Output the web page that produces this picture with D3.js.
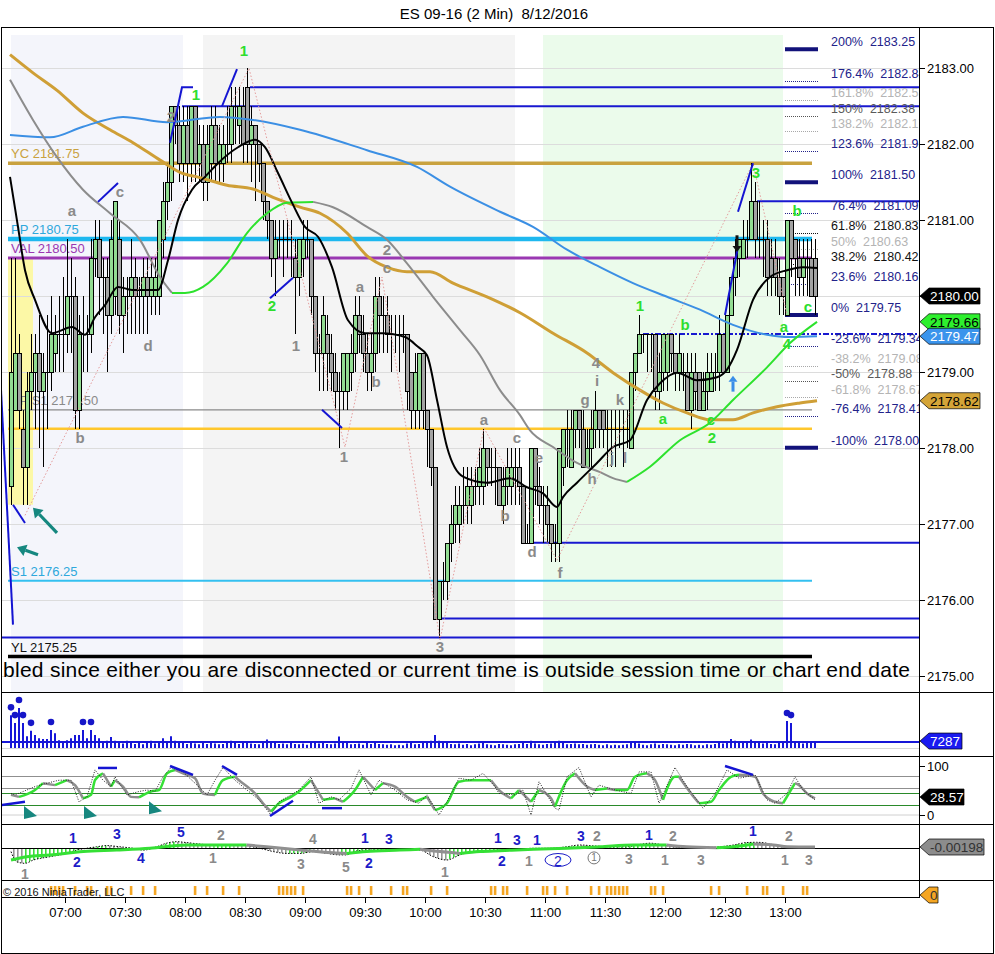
<!DOCTYPE html>
<html><head><meta charset="utf-8">
<script src="https://cdn.jsdelivr.net/npm/d3@7/dist/d3.min.js"></script>
<style>
html,body{margin:0;padding:0;background:#fff;}
svg{display:block;font-family:"Liberation Sans",Arial,Helvetica,sans-serif;}
</style></head><body>
<svg id="chart" width="995" height="954"></svg>
<script>
// ================= DATA =================
const chartTitle = "ES 09-16 (2 Min)\u00a0\u00a08/12/2016";
const firstBarMinute = 393;   // 06:33, minutes after midnight
const barStepMinutes = 2;

const barOpen = [
2177.50,2178.50,2179.25,2178.25,2177.75,2178.75,2179.00,2179.25,2178.75,2179.00,
2179.00,2179.25,2179.50,2179.50,2179.50,2180.00,2180.00,2178.50,2179.50,2179.50,
2179.50,2180.50,2180.75,2180.25,2180.25,2179.75,2180.00,2180.75,2179.75,2180.00,
2180.00,2180.25,2180.00,2180.00,2180.25,2180.00,2180.00,2180.00,2180.75,2181.25,
2181.50,2182.50,2182.25,2181.75,2182.25,2181.75,2182.50,2181.75,2182.00,2181.50,
2181.75,2182.25,2181.75,2181.75,2182.00,2182.00,2182.50,2182.25,2182.50,2182.75,
2182.00,2182.25,2182.00,2181.75,2181.25,2181.00,2180.50,2180.75,2180.75,2180.75,
2180.75,2180.50,2180.25,2180.50,2180.75,2180.75,2180.00,2179.25,2179.25,2179.50,
2179.25,2179.00,2178.75,2178.75,2178.75,2179.00,2179.25,2179.75,2179.50,2179.25,
2179.00,2179.25,2180.00,2179.75,2179.75,2179.50,2179.50,2179.50,2179.50,2179.50,
2179.00,2178.50,2178.50,2179.25,2178.50,2178.25,2177.75,2175.75,2176.25,2176.25,
2176.75,2177.00,2177.00,2177.25,2177.25,2177.25,2177.50,2177.50,2177.50,2178.00,
2177.75,2177.75,2177.75,2177.25,2177.50,2177.50,2177.75,2177.75,2177.50,2176.75,
2176.75,2178.00,2177.50,2177.25,2177.25,2177.00,2176.75,2176.75,2177.75,2178.25,
2177.75,2178.25,2178.50,2178.25,2177.75,2178.00,2178.25,2178.50,2178.50,2178.25,
2178.25,2178.25,2178.25,2178.25,2178.25,2178.00,2179.00,2179.25,2179.50,2179.50,
2179.50,2179.50,2178.75,2179.00,2179.00,2179.50,2179.25,2179.00,2179.00,2179.00,
2178.50,2179.00,2179.00,2178.50,2178.75,2178.75,2179.00,2179.00,2179.50,2179.00,
2179.75,2180.25,2180.50,2180.50,2180.75,2180.75,2181.25,2180.75,2180.75,2180.75,
2180.50,2180.50,2180.25,2180.25,2179.75,2181.00,2180.75,2180.50,2180.25,2180.50,
2180.50,2180.50];
const barHigh = [
2180.50,2180.50,2179.50,2178.50,2179.00,2179.50,2179.50,2179.75,2179.25,2179.75,
2180.00,2179.75,2180.00,2180.25,2180.75,2180.50,2180.25,2179.75,2180.00,2179.75,
2180.75,2181.00,2181.00,2180.50,2180.50,2181.00,2181.25,2181.00,2180.25,2180.25,
2180.75,2180.50,2180.25,2180.50,2180.50,2180.50,2180.50,2181.00,2181.50,2181.75,
2182.50,2182.50,2182.50,2182.50,2182.50,2182.50,2182.50,2182.25,2182.25,2182.25,
2182.50,2182.50,2182.25,2182.25,2182.50,2182.75,2182.75,2182.75,2182.75,2183.00,
2182.50,2182.25,2182.00,2181.75,2181.25,2181.00,2181.00,2181.00,2181.00,2181.00,
2181.00,2180.75,2180.75,2181.00,2181.00,2180.75,2180.00,2179.50,2180.00,2179.75,
2179.50,2179.25,2179.00,2179.25,2179.25,2179.50,2180.00,2180.00,2179.75,2179.50,
2179.50,2180.25,2180.25,2180.00,2180.00,2179.75,2179.75,2179.75,2179.75,2179.50,
2179.00,2179.25,2179.25,2179.25,2178.50,2178.25,2177.75,2176.25,2176.50,2176.75,
2177.25,2177.50,2177.50,2177.75,2177.75,2177.75,2177.75,2178.00,2178.25,2178.00,
2178.00,2178.00,2177.75,2177.75,2178.00,2178.00,2178.00,2178.00,2177.50,2177.00,
2178.00,2178.00,2177.75,2177.50,2177.50,2177.00,2177.00,2178.00,2178.25,2178.50,
2178.50,2178.50,2178.50,2178.50,2178.25,2178.50,2178.75,2178.50,2178.50,2178.50,
2178.50,2178.50,2178.50,2178.50,2178.50,2179.00,2179.25,2179.75,2179.50,2179.50,
2179.50,2179.50,2179.25,2179.50,2179.50,2179.50,2179.25,2179.50,2179.25,2179.25,
2179.25,2179.25,2179.00,2179.00,2179.25,2179.25,2179.25,2179.75,2179.50,2179.75,
2180.25,2180.75,2180.75,2181.00,2181.00,2181.75,2181.50,2181.25,2181.00,2181.00,
2180.75,2180.75,2180.50,2180.25,2181.00,2181.00,2180.75,2180.75,2180.75,2180.75,
2180.75,2180.75];
const barLow = [
2177.25,2178.50,2178.25,2177.25,2177.25,2178.50,2178.25,2178.00,2177.75,2178.25,
2178.75,2179.00,2179.00,2179.00,2179.25,2179.25,2178.25,2178.25,2179.00,2179.00,
2179.25,2180.25,2179.75,2179.50,2179.00,2179.50,2179.75,2179.50,2179.25,2179.50,
2179.50,2179.50,2179.50,2179.50,2179.50,2179.75,2179.75,2179.75,2180.50,2181.00,
2181.25,2182.00,2181.50,2181.50,2181.25,2181.50,2181.50,2181.50,2181.25,2181.25,
2181.50,2181.50,2181.50,2181.50,2181.75,2181.75,2182.00,2182.00,2181.75,2181.75,
2181.50,2181.25,2181.50,2181.00,2180.75,2180.25,2180.00,2180.50,2180.25,2180.50,
2180.25,2179.50,2180.00,2180.25,2180.50,2179.75,2179.00,2178.75,2178.75,2178.75,
2178.75,2178.50,2178.00,2178.50,2178.50,2178.75,2179.00,2179.25,2179.00,2178.75,
2178.75,2179.00,2179.25,2179.25,2179.25,2179.00,2179.25,2179.00,2179.25,2178.50,
2178.25,2178.25,2178.25,2178.25,2177.75,2177.50,2175.75,2175.50,2176.00,2176.00,
2176.50,2176.75,2176.75,2177.00,2177.00,2177.00,2177.25,2177.25,2177.25,2177.50,
2177.50,2177.25,2177.25,2177.00,2177.25,2177.25,2177.25,2177.25,2176.75,2176.75,
2176.75,2177.25,2177.00,2176.75,2176.75,2176.50,2176.50,2176.50,2177.50,2177.75,
2177.75,2178.00,2178.00,2177.75,2177.75,2177.75,2178.00,2178.00,2178.00,2177.75,
2177.75,2177.75,2178.00,2177.75,2178.00,2178.00,2178.75,2179.25,2179.25,2179.00,
2179.00,2178.50,2178.50,2178.75,2178.75,2179.00,2178.75,2178.75,2178.75,2178.50,
2178.25,2178.50,2178.50,2178.50,2178.50,2178.75,2178.75,2178.75,2179.00,2179.00,
2179.75,2180.00,2180.25,2180.50,2180.50,2180.75,2180.50,2180.50,2180.25,2180.00,
2180.00,2180.00,2179.75,2179.75,2179.75,2180.25,2180.00,2180.00,2180.00,2180.00,
2180.00,2179.75];
const barClose = [
2179.00,2179.25,2178.50,2177.75,2178.75,2179.00,2179.25,2178.75,2179.00,2179.00,
2179.50,2179.50,2179.50,2179.50,2180.00,2180.00,2178.50,2179.50,2179.50,2179.50,
2180.50,2180.75,2180.25,2180.25,2179.75,2180.75,2181.25,2179.75,2180.00,2180.00,
2180.25,2180.00,2180.00,2180.25,2180.00,2180.25,2180.25,2181.00,2181.25,2181.50,
2182.50,2182.25,2181.75,2182.25,2181.75,2182.50,2181.75,2182.00,2181.50,2182.00,
2182.25,2181.75,2182.00,2182.00,2182.00,2182.50,2182.50,2182.50,2182.00,2182.00,
2182.25,2182.00,2181.75,2181.25,2181.00,2180.50,2180.75,2180.75,2180.75,2180.75,
2180.75,2180.25,2180.75,2180.75,2180.75,2180.00,2179.25,2179.25,2179.75,2179.25,
2179.00,2178.75,2178.75,2179.25,2179.25,2179.25,2179.75,2179.50,2179.25,2179.00,
2179.25,2180.00,2179.75,2179.75,2179.50,2179.50,2179.50,2179.50,2179.50,2178.75,
2178.50,2179.00,2179.25,2178.50,2178.25,2177.75,2175.75,2176.25,2176.25,2176.75,
2177.00,2177.25,2177.25,2177.25,2177.50,2177.50,2177.50,2177.75,2178.00,2177.75,
2177.75,2177.75,2177.25,2177.50,2177.75,2177.75,2177.75,2177.50,2176.75,2176.75,
2178.00,2177.50,2177.25,2177.25,2177.00,2176.75,2176.75,2178.00,2178.25,2178.25,
2178.25,2178.50,2178.25,2177.75,2178.00,2178.25,2178.50,2178.25,2178.25,2178.25,
2178.25,2178.25,2178.25,2178.25,2178.25,2179.00,2179.25,2179.50,2179.50,2179.50,
2179.50,2178.75,2179.00,2179.50,2179.50,2179.25,2179.00,2179.25,2179.00,2178.50,
2179.00,2178.75,2178.50,2178.75,2179.00,2179.00,2179.00,2179.50,2179.00,2179.75,
2180.25,2180.50,2180.75,2180.75,2180.75,2181.25,2180.75,2180.75,2180.75,2180.25,
2180.25,2180.25,2180.00,2180.00,2181.00,2180.50,2180.50,2180.25,2180.50,2180.50,
2180.00,2180.00];
const barVolume = [
40000,30500,49000,30500,14500,21000,16000,12000,11000,11000,
22000,18000,9500,6000,9500,12000,16000,16000,22000,12000,
22000,16000,12000,8000,9000,13500,9000,6500,5500,9000,
7000,5000,6500,4500,6000,9000,5500,8000,12000,7500,
14500,9000,6000,7500,5000,6500,5500,4500,6000,5000,
7000,5500,4500,5000,6000,9000,6000,5000,7000,8500,
5500,5000,4500,6500,10500,8000,6500,5000,5500,4500,
6000,5000,4500,5500,4000,6500,8000,5500,6000,5000,
4500,5500,14000,7000,6000,4500,5000,5500,4000,6000,
5000,6500,5000,4500,4000,4500,3500,4000,3500,5500,
6500,4500,5000,6000,7500,9000,16000,9000,7000,6000,
5000,4500,5500,4000,5000,3500,4500,5500,6500,4500,
4000,3500,5000,4500,4000,3500,4500,5000,6500,5000,
9000,5500,4500,4000,5000,5500,6000,9000,6000,4500,
5000,5500,4500,5000,4000,4500,5000,4000,3500,4500,
3500,4000,3500,4000,4500,7500,6000,5500,4000,3500,
4500,5500,4000,5000,4500,4000,3500,4500,4000,5000,
4500,3500,4000,3500,4500,4000,5000,6000,5500,7000,
11000,9000,7500,7000,6500,10500,7500,6000,5500,6000,
5000,4500,7000,6000,33000,30500,8000,6500,5500,6000,
7000,7287];
const volumeSpikeLevel = 20000;
const volumeLastValue = 7287;

const priceTicks = [2175,2176,2177,2178,2179,2180,2181,2182,2183];
const timeTicks = [420,450,480,510,540,570,600,630,660,690,720,750,780];
const timeTickLabels = ["07:00","07:30","08:00","08:30","09:00","09:30","10:00","10:30","11:00","11:30","12:00","12:30","13:00"];

// session shading (minutes)
const shadeStart = [393, 489, 659];
const shadeEnd   = [479, 645, 779];
const yellowBoxTimes = [391.5, 404];
const yellowBoxPrices = [2177.25, 2180.50];

// moving averages [minute, price]
const goldMA = [[392.5,2183.18],[404,2182.94],[416,2182.71],[429,2182.41],[442.5,2182.19],[454,2182.02],[467.5,2181.79],[477.5,2181.63],[487.5,2181.56],[501,2181.46],[514,2181.41],[524,2181.30],[537.5,2181.17],[547.5,2181.09],[561,2180.83],[571,2180.53],[581,2180.38],[591,2180.32],[602.5,2180.32],[614,2180.17],[631,2179.99],[647.5,2179.78],[664,2179.51],[681,2179.25],[694,2178.99],[707.5,2178.76],[719,2178.59],[731,2178.46],[742.5,2178.37],[754,2178.37],[764,2178.46],[776,2178.54],[787.5,2178.59],[796,2178.62]];
const blueMA = [[392.5,2182.12],[412.5,2182.09],[429,2182.23],[449,2182.36],[471,2182.29],[497.5,2182.36],[514,2182.32],[537.5,2182.19],[571,2181.92],[596,2181.70],[612.5,2181.44],[637.5,2181.11],[654,2180.91],[671,2180.61],[687.5,2180.38],[704,2180.17],[721,2179.99],[737.5,2179.82],[754,2179.62],[771,2179.49],[782.5,2179.46],[796,2179.47]];
const trendMA = [[392.5,2182.85],[404,2182.32],[416,2181.83],[429,2181.40],[442.5,2181.09],[457.5,2180.74],[467.5,2180.25],[473.5,2180.04],[480,2180.04],[489,2180.12],[501,2180.43],[511,2180.83],[521,2181.09],[531,2181.23],[544,2181.24],[554,2181.17],[571,2180.91],[581,2180.74],[591,2180.43],[604,2179.99],[617.5,2179.55],[627.5,2179.22],[637.5,2178.76],[647.5,2178.43],[652.5,2178.23],[664,2178.01],[676,2177.80],[687.5,2177.68],[694,2177.60],[701,2177.55],[712.5,2177.75],[727.5,2178.10],[742.5,2178.33],[754,2178.63],[771,2179.06],[782.5,2179.38],[796,2179.66]];
const fastMA = [[392.5,2181.57],[396.5,2180.91],[400,2180.34],[405,2179.95],[413.5,2179.51],[423.5,2179.59],[430,2179.49],[435,2179.72],[440,2179.88],[446.5,2180.12],[453.5,2180.08],[466.5,2180.08],[471.5,2180.47],[476.5,2181.00],[483.5,2181.40],[490,2181.57],[496.5,2181.75],[506.5,2181.96],[515,2182.06],[520,2181.96],[526.5,2181.62],[533.5,2181.23],[540,2180.91],[546.5,2180.78],[553.5,2180.38],[561.5,2179.68],[570,2179.51],[578.5,2179.51],[590,2179.46],[596.5,2179.33],[601,2179.22],[606,2178.63],[611,2178.01],[619,2177.62],[631,2177.54],[642.5,2177.60],[651,2177.48],[659,2177.40],[666,2177.22],[669,2177.35],[676,2177.54],[686,2177.80],[694,2178.01],[702.5,2178.10],[711,2178.63],[717.5,2178.85],[726,2178.99],[736,2178.89],[746,2178.93],[751,2179.03],[756,2179.29],[764,2179.95],[772.5,2180.25],[781,2180.34],[789,2180.38],[796,2180.37]];

// pivot / session levels
const levelNames  = ["YC","PP","VAL","PP S1","S1","YL"];
const levelPrices = [2181.75, 2180.75, 2180.50, 2178.50, 2176.25, 2175.25];
const markerLevelPrices = [2178.25];
const levelSpan = [391.5, 793.5];

// horizontal rays (start minute, price)
const rayStarts = [512.5, 478.5, 766, 654, 608.5, 388];
const rayPrices = [2182.75, 2182.50, 2181.25, 2176.75, 2175.75, 2175.50];
const dashRayStart = 709, dashRayPrice = 2179.50;

// fibonacci
const fibZero = 2179.75, fibHundred = 2181.50;
const fibPercents = [200,176.4,161.8,150,138.2,123.6,100,76.4,61.8,50,38.2,23.6,0,-23.6,-38.2,-50,-61.8,-76.4,-100];
const fibSpan = [780, 796.5];
const fibLabelMinute = 803;

// zigzag
const zigTimes  = [400,512,560,578.5,607.5,629.5,666,764,781];
const zigPrices = [2177.11,2183.00,2178.01,2180.25,2175.47,2178.26,2176.52,2181.75,2179.75];

// drawn trend segments
const trendSegments = [
 [[388,2178.76],[394,2175.67]],
 [[394,2177.25],[400,2177.01]],
 [[436.5,2181.24],[446.5,2181.49]],
 [[472.5,2182.02],[478.5,2182.75],[484,2182.75]],
 [[498.5,2182.50],[506,2182.99]],
 [[522.5,2179.97],[534,2180.24]],
 [[548.5,2178.50],[558.5,2178.26]],
 [[750,2179.75],[756.5,2180.65]],
 [[756.5,2181.11],[764,2181.75]]];
const tealArrows = [[[416,2176.88],[404,2177.21]],[[406.5,2176.59],[396,2176.69]]];
const downArrow = [[756,2180.80],[756,2180.58]];
const upArrow = [[754,2178.74],[754,2178.95]];

// wave labels [minute, price, text]
const grayMarks = [[423.5,2181.12,"a"],[447.5,2181.38,"c"],[427.5,2178.14,"b"],[461.5,2179.35,"d"],[473,2182.36,"2"],[535.5,2179.35,"1"],[559.5,2177.88,"1"],[567.5,2180.12,"a"],[575.5,2178.88,"b"],[581,2180.61,"2"],[581,2180.37,"c"],[607.5,2175.38,"3"],[629.5,2178.37,"a"],[640,2177.11,"b"],[646,2178.14,"c"],[653.5,2176.63,"d"],[657,2177.87,"e"],[667.5,2176.36,"f"],[680,2178.63,"g"],[683.5,2177.60,"h"],[686,2178.89,"i"],[685.5,2179.13,"4"],[693.5,2177.87,"j"],[697.5,2178.63,"k"],[700,2177.87,"l"]];
const greenMarks = [[485.5,2182.65,"1"],[509.5,2183.24,"1"],[523.5,2179.88,"2"],[707.5,2179.88,"1"],[730,2179.63,"b"],[719,2178.39,"a"],[743,2178.37,"c"],[743.5,2178.13,"2"],[765.5,2181.63,"3"],[786,2181.13,"b"],[779.5,2179.60,"a"],[791.5,2179.86,"c"],[781,2179.37,"4"]];

const messageText = "bled since either you are disconnected or current time is outside session time or chart end date";

// stochastics [barIndex, value]
const stochSlow = [[0,41],[2,37],[6,51],[8,65],[11,61],[14,71],[16,61],[18,34],[20,41],[21,71],[23,85],[25,58],[26,71],[28,58],[30,37],[32,36],[35,48],[37,51],[39,85],[41,92],[43,85],[46,75],[48,44],[51,41],[53,71],[56,78],[57,71],[61,44],[63,24],[65,7],[67,24],[70,37],[72,48],[75,71],[76,58],[78,31],[81,34],[83,27],[86,51],[88,78],[91,51],[93,65],[96,58],[99,37],[101,27],[104,37],[106,10],[109,24],[112,68],[115,71],[117,71],[120,71],[122,51],[125,34],[127,51],[130,27],[132,51],[135,34],[136,17],[139,71],[141,85],[144,58],[146,51],[149,54],[151,51],[154,51],[156,78],[159,85],[161,71],[163,31],[166,78],[167,78],[170,44],[172,24],[175,27],[177,51],[180,78],[182,82],[186,78],[188,44],[191,27],[193,24],[196,65],[197,61],[199,44],[201,34]];
const stochFast = [[0,44],[1,41],[6,58],[9,65],[12,71],[15,71],[17,27],[19,37],[21,92],[23,71],[25,58],[26,78],[29,41],[32,48],[34,51],[36,48],[38,78],[40,97],[43,88],[46,65],[49,41],[51,71],[53,97],[56,71],[59,51],[62,31],[65,0],[67,27],[70,41],[72,51],[75,78],[77,24],[80,37],[82,31],[85,54],[87,92],[90,41],[92,71],[96,51],[99,31],[102,24],[104,41],[107,0],[109,27],[112,75],[115,71],[118,85],[121,58],[122,44],[126,41],[128,51],[130,0],[132,68],[136,14],[137,10],[139,78],[142,97],[145,37],[147,61],[151,51],[155,44],[157,88],[160,88],[162,24],[166,97],[169,58],[173,14],[176,44],[179,92],[182,75],[186,82],[189,31],[191,24],[194,44],[196,78],[198,51],[201,31]];
const stochLast = 28.57;
const stochGrayLevels = [80, 55];
const stochGreenLevels = [45, 20];
const stochTriangles = [[4.75,4],[19.75,4],[36,14]];
const stochDivergences = [[[-2.75,20],[3.5,27]],[[21.75,96],[26.5,96]],[[39.75,100],[45.5,82]],[[52.75,100],[56.5,82]],[[64.75,-2],[70.5,29]],[[77.75,14],[82.75,14]],[[178.5,100],[185.5,82]]];

// MACD [barIndex, value]
const macdLine = [[0,-0.12],[1.4,-0.46],[3.5,-0.51],[5.6,-0.40],[9.75,-0.29],[13.9,-0.18],[16.4,-0.07],[18.9,-0.01],[21.4,0.04],[23.9,0.08],[27.25,0.04],[30.6,-0.01],[33.1,-0.07],[36.4,0.04],[38.9,0.16],[41.4,0.21],[43.9,0.18],[47.25,0.13],[50.6,0.10],[55.6,0.10],[58.9,0.08],[62.25,-0.01],[65.6,-0.12],[68.9,-0.18],[72.25,-0.18],[75.6,-0.12],[78.9,-0.18],[82.25,-0.23],[83.9,-0.23],[85.6,-0.12],[88.9,-0.07],[93.1,-0.07],[97.25,-0.04],[102.25,-0.07],[105.6,-0.29],[108.9,-0.40],[112.25,-0.23],[115.6,-0.12],[118.9,-0.09],[122.25,-0.07],[126.4,-0.04],[130.6,-0.01],[134.75,-0.01],[138.9,0.04],[142.25,0.10],[145.6,0.07],[149.75,0.04],[153.9,0.04],[157.25,0.12],[159.75,0.16],[162.25,0.12],[165.6,0.04],[168.9,0.01],[172.25,0.01],[177.25,0.04],[180.6,0.10],[183.9,0.18],[186.4,0.19],[188.9,0.16],[191.4,0.08],[193.9,0.04],[197.25,0.04],[201,-0.002]];
const macdSignal = [[0,-0.40],[3.9,-0.29],[9.75,-0.23],[18.1,-0.12],[26.4,-0.07],[34.75,-0.01],[43.9,0.10],[51.4,0.10],[58.9,0.10],[63.9,0.04],[72.25,-0.07],[80.6,-0.16],[83.9,-0.18],[88.9,-0.12],[97.25,-0.07],[102.25,-0.04],[107.25,-0.12],[112.25,-0.18],[117.25,-0.12],[122.25,-0.09],[130.6,-0.04],[138.9,-0.01],[147.25,0.04],[155.6,0.10],[163.9,0.10],[168.9,0.04],[176.4,0.01],[180.6,0.04],[185.6,0.13],[190.6,0.10],[194.1,0.04],[201,0.03]];
const macdLastText = "-0.00198";
const macdBlueMarks = [[15.5,0.33,"1"],[26.5,0.47,"3"],[16.5,-0.47,"2"],[32.5,-0.33,"4"],[42.5,0.55,"5"],[88.5,0.33,"1"],[94.5,0.30,"3"],[89.5,-0.5,"2"],[121.75,0.33,"1"],[126.5,0.27,"3"],[131.5,0.27,"1"],[122.75,-0.43,"2"],[142.5,0.4,"3"],[159.5,0.43,"1"],[185.5,0.58,"1"]];
const macdGrayMarks = [[52.5,0.43,"2"],[50.5,-0.33,"1"],[75.5,0.3,"4"],[72.5,-0.53,"3"],[83.75,-0.63,"5"],[108.5,-0.8,"1"],[3.5,-0.87,"1"],[129.5,-0.43,"1"],[146.5,0.4,"2"],[154.5,-0.37,"3"],[165.5,0.4,"2"],[163.5,-0.4,"1"],[172.5,-0.4,"3"],[194.5,0.4,"2"],[193.5,-0.4,"1"],[199.5,-0.4,"3"]];
const macdCircledBlue = [136.75,-0.4,"2"];
const macdCircledGray = [145.75,-0.33,"1"];

// signal markers bottom panel (bar indices)
const orangeBars = [10,11,12,13,16,19,20,24,25,30,33,36,46,49,53,57,67,68,69,70,71,73,84,85,87,90,95,98,99,105,109,120,121,123,124,129,133,134,136,139,145,147,149,150,151,152,153,154,160,161,163,175,177,184,188,189,193,198,199];
const signalLastText = "0";

// ================= DRAWING =================
const svg = d3.select("#chart");
const defs = svg.append("defs");
const L = 2, R = 919;
const P = {top:27, bot:692}, V = {top:692, bot:756}, S = {top:756, bot:824}, M = {top:824, bot:880}, G = {top:880, bot:897};

function clip(id, pn){ defs.append("clipPath").attr("id",id).append("rect").attr("x",L).attr("y",pn.top+1).attr("width",R-L).attr("height",pn.bot-pn.top-1); }
clip("cP",P); clip("cV",V); clip("cS",S); clip("cM",M); clip("cG",G);

const x = d3.scaleLinear().domain([420,780]).range([65,785]);
const barT = i => firstBarMinute + barStepMinutes*i;
const bx = i => x(barT(i));
const y = d3.scaleLinear().domain([2175,2183]).range([675.5,68.3]);
const yV = d3.scaleLinear().domain([0,60000]).range([748,699]);
const yS = d3.scaleLinear().domain([0,100]).range([815,766]);
const yM = d3.scaleLinear().domain([-1,1]).range([878,818]);

const FONT = "'Liberation Sans',Arial,sans-serif";

// ---------- price panel ----------
const gP = svg.append("g").attr("clip-path","url(#cP)");
const shadeColors = ["#f4f5fb","#f4f4f4","#ebfbeb"];
shadeStart.forEach((s,k)=>{
  gP.append("rect").attr("x",x(s)).attr("y",35).attr("width",x(shadeEnd[k])-x(s)).attr("height",P.bot-35).attr("fill",shadeColors[k]);
});
gP.append("rect").attr("x",x(yellowBoxTimes[0])).attr("y",y(yellowBoxPrices[1]))
  .attr("width",x(yellowBoxTimes[1])-x(yellowBoxTimes[0])).attr("height",y(yellowBoxPrices[0])-y(yellowBoxPrices[1])).attr("fill","#fcf8a6");

priceTicks.forEach(p=>{
  gP.append("line").attr("x1",L).attr("x2",R).attr("y1",Math.round(y(p))+0.5).attr("y2",Math.round(y(p))+0.5).attr("stroke","#dcdcdc");
});

const levelStyle = {
  "YC":{c:"#c9a23f",w:3.5,t:"#c9a23f"},
  "PP":{c:"#1eb8ef",w:4.5,t:"#2ea8dc"},
  "VAL":{c:"#9a38b2",w:3,t:"#9a38b2"},
  "PP S1":{c:"#8a8a8a",w:1.2,t:"#8a8a8a"},
  "S1":{c:"#34c0f0",w:2,t:"#2ea8dc"},
  "YL":{c:"#000000",w:3.5,t:"#111"}
};
markerLevelPrices.forEach(p=>{
  gP.append("line").attr("x1",x(levelSpan[0])).attr("x2",x(levelSpan[1])).attr("y1",y(p)).attr("y2",y(p)).attr("stroke","#ffc72c").attr("stroke-width",2.5);
});
levelNames.forEach((n,k)=>{
  const st = levelStyle[n], yy = y(levelPrices[k]);
  gP.append("line").attr("x1",x(levelSpan[0])).attr("x2",x(levelSpan[1])).attr("y1",yy).attr("y2",yy).attr("stroke",st.c).attr("stroke-width",st.w);
  gP.append("text").attr("x",11).attr("y",yy-5).attr("font-size",13).attr("fill",st.t).attr("font-family",FONT)
    .text(n+" "+levelPrices[k].toFixed(2));
});

rayStarts.forEach((s,k)=>{
  const yy = y(rayPrices[k]);
  gP.append("line").attr("x1",x(s)).attr("x2",R).attr("y1",yy).attr("y2",yy).attr("stroke","#1818d0").attr("stroke-width",2);
});
gP.append("line").attr("x1",x(dashRayStart)).attr("x2",R).attr("y1",y(dashRayPrice)).attr("y2",y(dashRayPrice))
  .attr("stroke","#1818d0").attr("stroke-width",2).attr("stroke-dasharray","6,2,2,2");

// fib
const fibMajor = [200,100,0,-100], fibLight=[161.8,138.2,50,-38.2,-61.8], fibDark=[150,-50], fibBlack=[61.8,38.2];
const fibPrice = pct => fibZero + pct/100*(fibHundred-fibZero);
fibPercents.forEach(pct=>{
  const yy = y(fibPrice(pct));
  let lc="#22228a", tc="#22228a", major=false;
  if (fibMajor.includes(pct)) { major=true; }
  else if (fibLight.includes(pct)) { lc="#a8a8a8"; tc="#b4b4b4"; }
  else if (fibDark.includes(pct)) { lc="#555"; tc="#5a5a5a"; }
  else if (fibBlack.includes(pct)) { lc="#111"; tc="#111"; }
  if (major) gP.append("line").attr("x1",x(fibSpan[0])).attr("x2",x(fibSpan[1])).attr("y1",yy).attr("y2",yy).attr("stroke","#12127a").attr("stroke-width",4);
  else gP.append("line").attr("x1",x(fibSpan[0])).attr("x2",x(fibSpan[1])).attr("y1",Math.round(yy)+0.5).attr("y2",Math.round(yy)+0.5).attr("stroke",lc).attr("stroke-width",1).attr("stroke-dasharray","1,1");
  gP.append("text").attr("x",x(fibLabelMinute)).attr("y",yy-3).attr("font-size",12.5).attr("fill",tc).attr("font-family",FONT)
    .text(String(pct)+"%\u00a0\u00a0"+fibPrice(pct).toFixed(2));
});

// candles
const gC = gP.append("g").attr("shape-rendering","crispEdges");
barClose.forEach((c,i)=>{
  const cx = Math.round(bx(i))+0.5;
  gC.append("line").attr("x1",cx).attr("x2",cx).attr("y1",y(barHigh[i])).attr("y2",y(barLow[i])).attr("stroke","#000");
});
barClose.forEach((c,i)=>{
  const cx = Math.round(bx(i))+0.5, o = barOpen[i];
  if (o===c) gC.append("line").attr("x1",cx-2.5).attr("x2",cx+2.5).attr("y1",Math.round(y(c))+0.5).attr("y2",Math.round(y(c))+0.5).attr("stroke","#000");
  else gC.append("rect").attr("x",cx-2).attr("width",4).attr("y",Math.round(y(Math.max(o,c)))+0.5)
        .attr("height",Math.round(Math.abs(y(o)-y(c)))).attr("fill",c>o?"#92dc92":"#a3a3a3").attr("stroke","#000");
});

// MAs
const lineT = d3.line().x(d=>x(d[0])).y(d=>y(d[1])).curve(d3.curveMonotoneX);
function runs(pts){
  const out=[];
  for(let j=0;j<pts.length-1;j++){
    const up = pts[j+1][1] >= pts[j][1];
    if(!out.length || out[out.length-1].up!==up) out.push({up:up, pts:[pts[j]]});
    out[out.length-1].pts.push(pts[j+1]);
  }
  return out;
}
gP.append("path").attr("d",lineT(goldMA)).attr("fill","none").attr("stroke","#cf9f36").attr("stroke-width",3);
gP.append("path").attr("d",lineT(blueMA)).attr("fill","none").attr("stroke","#3b8fe4").attr("stroke-width",2);
runs(trendMA).forEach(r=>{
  gP.append("path").attr("d",lineT(r.pts)).attr("fill","none").attr("stroke",r.up?"#2de22d":"#8c8c8c").attr("stroke-width",2);
});
gP.append("path").attr("d",lineT(fastMA)).attr("fill","none").attr("stroke","#000").attr("stroke-width",2);

// zigzag
gP.append("path").attr("d",d3.line()(zigTimes.map((t,k)=>[x(t),y(zigPrices[k])])))
  .attr("fill","none").attr("stroke","#e49c9c").attr("stroke-width",1).attr("stroke-dasharray","1.5,2");

// trend segments
trendSegments.forEach(seg=>{
  gP.append("path").attr("d",d3.line()(seg.map(d=>[x(d[0]),y(d[1])]))).attr("fill","none").attr("stroke","#1414d2").attr("stroke-width",2);
});

function arrow(g, a, b, color, w, hl, hw){
  const x1=x(a[0]), y1=y(a[1]), x2=x(b[0]), y2=y(b[1]);
  const dx=x2-x1, dy=y2-y1, len=Math.hypot(dx,dy), ux=dx/len, uy=dy/len;
  const bxp=x2-ux*hl, byp=y2-uy*hl;
  g.append("line").attr("x1",x1).attr("y1",y1).attr("x2",bxp).attr("y2",byp).attr("stroke",color).attr("stroke-width",w);
  g.append("path").attr("d",`M${x2},${y2} L${bxp-uy*hw},${byp+ux*hw} L${bxp+uy*hw},${byp-ux*hw} Z`).attr("fill",color);
}
tealArrows.forEach(a=>{ arrow(gP,a[0],a[1],"#15877f",3.2,9,6); });
arrow(gP,downArrow[0],downArrow[1],"#111",3,6,4.5);
arrow(gP,upArrow[0],upArrow[1],"#3a8ee8",3,6,4.5);

// wave labels
function marks(arr, color){
  arr.forEach(d=>{
    gP.append("text").attr("x",x(d[0])).attr("y",y(d[1])).attr("text-anchor","middle").attr("dominant-baseline","central")
      .attr("font-size",15).attr("font-weight","bold").attr("fill",color).attr("font-family",FONT).text(d[2]);
  });
}
marks(grayMarks,"#8a8a8a");
marks(greenMarks,"#2ede2e");

// message
gP.append("text").attr("x",3).attr("y",677).attr("font-size",21).attr("fill","#000").attr("font-family",FONT)
  .attr("textLength",907).attr("lengthAdjust","spacing").text(messageText);

// ---------- volume panel ----------
const gV = svg.append("g").attr("clip-path","url(#cV)");
gV.append("line").attr("x1",L).attr("x2",R).attr("y1",yV(0)+0.5).attr("y2",yV(0)+0.5).attr("stroke","#d8d8d8");
barVolume.forEach((v,i)=>{
  gV.append("line").attr("x1",bx(i)).attr("x2",bx(i)).attr("y1",yV(0)).attr("y2",yV(v)).attr("stroke","#1616d8").attr("stroke-width",2);
});
gV.append("line").attr("x1",L).attr("x2",R).attr("y1",yV(volumeLastValue)).attr("y2",yV(volumeLastValue)).attr("stroke","#1616d8").attr("stroke-width",2);
barVolume.forEach((v,i)=>{
  if (v>=volumeSpikeLevel) gV.append("circle").attr("cx",bx(i)).attr("cy",yV(v)-8).attr("r",3.3).attr("fill","#1616c8");
});

// ---------- stochastic panel ----------
const gS = svg.append("g").attr("clip-path","url(#cS)");
gS.append("line").attr("x1",L).attr("x2",R).attr("y1",yS(0)).attr("y2",yS(0)).attr("stroke","#d0d0d0");
stochGrayLevels.forEach(v=>{ gS.append("line").attr("x1",L).attr("x2",R).attr("y1",Math.round(yS(v))+0.5).attr("y2",Math.round(yS(v))+0.5).attr("stroke","#8f8f8f"); });
stochGreenLevels.forEach(v=>{ gS.append("line").attr("x1",L).attr("x2",R).attr("y1",Math.round(yS(v))+0.5).attr("y2",Math.round(yS(v))+0.5).attr("stroke","#2a8a2a"); });
const lineS = d3.line().x(d=>bx(d[0])).y(d=>yS(d[1])).curve(d3.curveMonotoneX);
runs(stochSlow).forEach(r=>{
  gS.append("path").attr("d",lineS(r.pts)).attr("fill","none").attr("stroke",r.up?"#35e035":"#8e8e8e").attr("stroke-width",2.5);
});
gS.append("path").attr("d",d3.line().x(d=>bx(d[0])).y(d=>yS(d[1]))(stochFast)).attr("fill","none").attr("stroke","#222").attr("stroke-width",1).attr("stroke-dasharray","1,1.5");
stochDivergences.forEach(seg=>{
  gS.append("path").attr("d",d3.line()(seg.map(d=>[bx(d[0]),yS(d[1])]))).attr("stroke","#1414d2").attr("stroke-width",2.5).attr("fill","none");
});
stochTriangles.forEach(d=>{
  const cx=bx(d[0]), cy=yS(d[1]);
  gS.append("path").attr("d",`M${cx-6},${cy-7} L${cx+7},${cy+3} L${cx-6},${cy+6} Z`).attr("fill","#17877f");
});

// ---------- MACD panel ----------
const gM = svg.append("g").attr("clip-path","url(#cM)");
function hatch(id,color){
  const p=defs.append("pattern").attr("id",id).attr("patternUnits","userSpaceOnUse").attr("width",4).attr("height",8);
  p.append("rect").attr("x",1).attr("y",0).attr("width",1.6).attr("height",8).attr("fill",color);
}
hatch("hG","#38dc38"); hatch("hY","#969696");
const areaM = d3.area().x(d=>bx(d[0])).y0(yM(0)).y1(d=>yM(d[1])).curve(d3.curveMonotoneX);
runs(macdLine).forEach(r=>{
  gM.append("path").attr("d",areaM(r.pts)).attr("fill",r.up?"url(#hG)":"url(#hY)");
});
gM.append("line").attr("x1",L).attr("x2",R).attr("y1",Math.round(yM(0))+0.5).attr("y2",Math.round(yM(0))+0.5).attr("stroke","#000");
const lineM = d3.line().x(d=>bx(d[0])).y(d=>yM(d[1])).curve(d3.curveMonotoneX);
gM.append("path").attr("d",lineM(macdLine)).attr("fill","none").attr("stroke","#000").attr("stroke-width",1).attr("stroke-dasharray","1.5,1.5");
runs(macdSignal).forEach(r=>{
  gM.append("path").attr("d",lineM(r.pts)).attr("fill","none").attr("stroke",r.up?"#35e035":"#909090").attr("stroke-width",3);
});
function mmarks(arr,color){
  arr.forEach(d=>{
    gM.append("text").attr("x",bx(d[0])).attr("y",yM(d[1])).attr("text-anchor","middle").attr("dominant-baseline","central")
      .attr("font-size",14).attr("font-weight","bold").attr("fill",color).attr("font-family",FONT).text(d[2]);
  });
}
mmarks(macdBlueMarks,"#1c1cc8");
mmarks(macdGrayMarks,"#8a8a8a");
gM.append("ellipse").attr("cx",bx(macdCircledBlue[0])).attr("cy",yM(macdCircledBlue[1])).attr("rx",13).attr("ry",6.5).attr("fill","none").attr("stroke","#1c1cc8");
gM.append("text").attr("x",bx(macdCircledBlue[0])).attr("y",yM(macdCircledBlue[1])+1).attr("text-anchor","middle").attr("dominant-baseline","central").attr("font-size",14).attr("fill","#1c1cc8").attr("font-family",FONT).text(macdCircledBlue[2]);
gM.append("circle").attr("cx",bx(macdCircledGray[0])).attr("cy",yM(macdCircledGray[1])).attr("r",6).attr("fill","none").attr("stroke","#777");
gM.append("text").attr("x",bx(macdCircledGray[0])).attr("y",yM(macdCircledGray[1])).attr("text-anchor","middle").attr("dominant-baseline","central").attr("font-size",10).attr("fill","#777").attr("font-family",FONT).text(macdCircledGray[2]);

// ---------- signal panel ----------
const gG = svg.append("g").attr("clip-path","url(#cG)");
orangeBars.forEach(i=>{
  gG.append("rect").attr("x",bx(i)-1.2).attr("y",886).attr("width",2.6).attr("height",9).attr("fill","#f5a623");
});
svg.append("text").attr("x",3).attr("y",896).attr("font-size",11).attr("fill","#111").attr("font-family",FONT).text("\u00a9 2016 NinjaTrader, LLC");

// ---------- frames & axes ----------
const frame = svg.append("g").attr("shape-rendering","crispEdges");
frame.append("rect").attr("x",1.5).attr("y",27.5).attr("width",992).attr("height",925.5).attr("fill","none").attr("stroke","#000");
[P.bot,V.bot,S.bot,M.bot].forEach(yy=>{ frame.append("line").attr("x1",1).attr("x2",994).attr("y1",yy+0.5).attr("y2",yy+0.5).attr("stroke","#000"); });
frame.append("line").attr("x1",1).attr("x2",R).attr("y1",G.bot+0.5).attr("y2",G.bot+0.5).attr("stroke","#000");
frame.append("line").attr("x1",R+0.5).attr("x2",R+0.5).attr("y1",27).attr("y2",G.bot+1).attr("stroke","#000");

// price-tag positions (the tags hide axis labels they cover)
const lastClose = barClose[barClose.length-1];
const tagPrices = [lastClose, trendMA[trendMA.length-1][1], blueMA[blueMA.length-1][1], goldMA[goldMA.length-1][1]];
priceTicks.forEach(p=>{
  const yy=Math.round(y(p))+0.5;
  frame.append("line").attr("x1",R).attr("x2",R+6).attr("y1",yy).attr("y2",yy).attr("stroke","#000");
  const hidden = tagPrices.some(tp=>Math.abs(y(tp)-y(p))<10);
  if (!hidden) svg.append("text").attr("x",R+8).attr("y",yy+4.5).attr("font-size",13).attr("fill","#000").attr("font-family",FONT).text(p.toFixed(2));
});
[100,0].forEach(v=>{
  const yy=Math.round(yS(v))+0.5;
  frame.append("line").attr("x1",R).attr("x2",R+6).attr("y1",yy).attr("y2",yy).attr("stroke","#000");
  svg.append("text").attr("x",R+8).attr("y",yy+4.5).attr("font-size",13).attr("fill","#000").attr("font-family",FONT).text(v);
});
timeTicks.forEach((t,k)=>{
  const xx=Math.round(x(t))+0.5;
  frame.append("line").attr("x1",xx).attr("x2",xx).attr("y1",G.bot).attr("y2",G.bot+6).attr("stroke","#000");
  svg.append("text").attr("x",xx).attr("y",917).attr("text-anchor","middle").attr("font-size",13).attr("fill","#000").attr("font-family",FONT).text(timeTickLabels[k]);
});

function tag(yc, text, fill, color, w){
  const g=svg.append("g");
  g.append("path").attr("d",`M${R+1},${yc} L${R+10},${yc-8} L${R+10+w},${yc-8} L${R+10+w},${yc+8} L${R+10},${yc+8} Z`)
    .attr("fill",fill).attr("stroke","#000").attr("stroke-width",0.7);
  g.append("text").attr("x",R+11).attr("y",yc+5).attr("font-size",13.5).attr("fill",color).attr("font-family",FONT).text(text);
}
tag(y(lastClose), lastClose.toFixed(2), "#000", "#fff", 51);
tag(y(trendMA[trendMA.length-1][1]), trendMA[trendMA.length-1][1].toFixed(2), "#2ef02e", "#000", 51);
tag(y(blueMA[blueMA.length-1][1]), blueMA[blueMA.length-1][1].toFixed(2), "#3b94ec", "#fff", 51);
tag(y(goldMA[goldMA.length-1][1]), goldMA[goldMA.length-1][1].toFixed(2), "#d4a438", "#000", 51);
tag(yV(volumeLastValue)-1, String(volumeLastValue), "#1a1af0", "#fff", 33);
tag(yS(stochLast)-4, stochLast.toFixed(2), "#000", "#fff", 35);
tag(yM(0)-1, macdLastText, "#8c8c8c", "#333", 55);
tag(895, signalLastText, "#f5a623", "#333", 9);

// title
svg.append("text").attr("x",494).attr("y",19).attr("text-anchor","middle").attr("font-size",15).attr("fill","#000").attr("font-family",FONT).text(chartTitle);
</script></body></html>
